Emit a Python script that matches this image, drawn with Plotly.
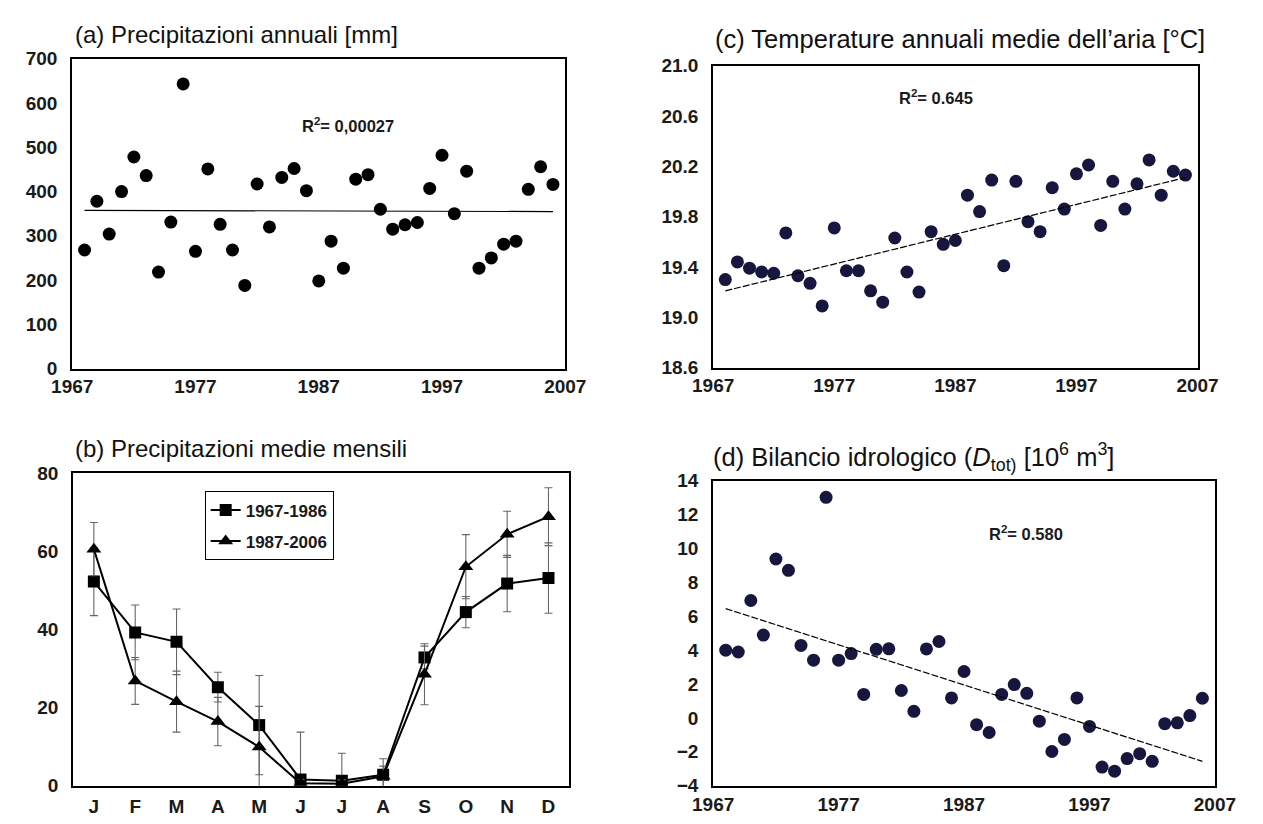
import plotly.graph_objects as go

# ---------------- data ----------------
years = list(range(1968, 2007))

# (a) annual precipitation [mm]
precip_annual = [268, 378, 304, 400, 478, 436, 218, 331, 643, 265, 451, 326, 268,
                 188, 417, 320, 432, 452, 402, 198, 288, 227, 428, 438, 360, 315,
                 325, 330, 407, 482, 350, 446, 227, 250, 281, 288, 405, 456, 416]
precip_trend_years = [1968, 2006]
precip_trend = [357.6, 354.7]

# (b) mean monthly precipitation with standard deviation
months = ["J", "F", "M", "A", "M", "J", "J", "A", "S", "O", "N", "D"]
month_pos = list(range(12))
monthly_6786 = [52.2, 39.2, 36.8, 25.2, 15.5, 1.6, 1.3, 2.8, 32.8, 44.4, 51.7, 53.1]
monthly_6786_sd = [8.7, 7.0, 8.4, 3.8, 12.7, 12.1, 7.0, 4.1, 2.9, 4.0, 7.2, 9.0]
monthly_8706 = [60.5, 26.8, 21.5, 16.4, 9.9, 0.6, 0.5, 2.4, 28.5, 56.0, 64.3, 68.8]
monthly_8706_sd = [6.8, 6.0, 7.8, 6.2, 10.4, 1.0, 1.0, 2.6, 7.8, 8.2, 5.9, 7.4]

# (c) mean annual air temperature [°C]
temp_annual = [19.30, 19.44, 19.39, 19.36, 19.35, 19.67, 19.33, 19.27, 19.09, 19.71,
               19.37, 19.37, 19.21, 19.12, 19.63, 19.36, 19.20, 19.68, 19.58, 19.61,
               19.97, 19.84, 20.09, 19.41, 20.08, 19.76, 19.68, 20.03, 19.86, 20.14,
               20.21, 19.73, 20.08, 19.86, 20.06, 20.25, 19.97, 20.16, 20.13]
temp_trend_years = [1968, 2006]
temp_trend = [19.21, 20.11]

# (d) hydrological balance D_tot [10^6 m^3]
balance = [4.00, 3.89, 6.93, 4.89, 9.38, 8.71, 4.28, 3.41, 13.02, 3.41, 3.80, 1.39,
           4.05, 4.08, 1.62, 0.39, 4.07, 4.51, 1.18, 2.74, -0.40, -0.86, 1.39, 1.97,
           1.45, -0.19, -1.98, -1.27, 1.18, -0.50, -2.90, -3.14, -2.40, -2.11, -2.56,
           -0.34, -0.29, 0.14, 1.16]
balance_trend_years = [1968, 2006]
balance_trend = [6.45, -2.56]

year_ticks = [1967, 1977, 1987, 1997, 2007]

# ---------------- styling ----------------
FONT = "Liberation Sans, Arial, Helvetica, sans-serif"
W, H = 1263, 824
NAVY = "#16163f"
TICKFONT = dict(family=FONT, size=19, color="#1a1a1a", weight="bold")


def px_dom_x(a, b):
    return [a / W, b / W]


def px_dom_y(top, bottom):
    return [1 - bottom / H, 1 - top / H]


fig = go.Figure()

# (a)
fig.add_trace(go.Scatter(x=years, y=precip_annual, mode="markers",
                         marker=dict(color="black", size=13), showlegend=False,
                         xaxis="x", yaxis="y"))
fig.add_trace(go.Scatter(x=precip_trend_years, y=precip_trend, mode="lines",
                         line=dict(color="black", width=1.2), showlegend=False,
                         xaxis="x", yaxis="y"))

# (c)
fig.add_trace(go.Scatter(x=years, y=temp_annual, mode="markers",
                         marker=dict(color=NAVY, size=13), showlegend=False,
                         xaxis="x2", yaxis="y2"))
fig.add_trace(go.Scatter(x=temp_trend_years, y=temp_trend, mode="lines",
                         line=dict(color="black", width=1.2, dash="7px,2px"),
                         showlegend=False, xaxis="x2", yaxis="y2"))

# (b)
fig.add_trace(go.Scatter(x=month_pos, y=monthly_6786, mode="lines+markers",
                         name="1967-1986", legendgroup="g1",
                         line=dict(color="black", width=2),
                         marker=dict(symbol="square", size=12, color="black"),
                         error_y=dict(type="data", array=monthly_6786_sd, visible=True,
                                      color="#666666", thickness=1.1, width=4),
                         xaxis="x3", yaxis="y3"))
fig.add_trace(go.Scatter(x=month_pos, y=monthly_8706, mode="lines+markers",
                         name="1987-2006", legendgroup="g2",
                         line=dict(color="black", width=2),
                         marker=dict(symbol="triangle-up", size=13, color="black"),
                         error_y=dict(type="data", array=monthly_8706_sd, visible=True,
                                      color="#666666", thickness=1.1, width=4),
                         xaxis="x3", yaxis="y3"))

# (d)
fig.add_trace(go.Scatter(x=years, y=balance, mode="markers",
                         marker=dict(color=NAVY, size=13), showlegend=False,
                         xaxis="x4", yaxis="y4"))
fig.add_trace(go.Scatter(x=balance_trend_years, y=balance_trend, mode="lines",
                         line=dict(color="black", width=1.2, dash="7px,2px"),
                         showlegend=False, xaxis="x4", yaxis="y4"))

frame = dict(showline=True, linecolor="black", linewidth=2, mirror=True,
             showgrid=False, zeroline=False, ticks="", tickfont=TICKFONT,
             fixedrange=True)

year_axis = dict(frame, range=[1967, 2007], tickmode="array", tickvals=year_ticks,
                 ticktext=[str(v) for v in year_ticks], ticklabelstandoff=0)
value_axis = dict(frame, ticklabelstandoff=9)

fig.update_layout(
    width=W, height=H,
    margin=dict(l=0, r=0, t=0, b=0),
    paper_bgcolor="white", plot_bgcolor="white",
    font=dict(family=FONT, color="black"),
    xaxis=dict(year_axis, domain=px_dom_x(53, 563), anchor="y"),
    yaxis=dict(value_axis, domain=px_dom_y(50, 368), range=[0, 700], dtick=100,
               anchor="x"),
    xaxis2=dict(year_axis, domain=px_dom_x(716, 1217), anchor="y2"),
    yaxis2=dict(value_axis, domain=px_dom_y(57, 367), range=[18.6, 21.0], dtick=0.4,
                tick0=18.6, tickformat=".1f", anchor="x2"),
    xaxis3=dict(frame, domain=px_dom_x(54, 567), anchor="y3", range=[-0.5, 11.5],
                tickmode="array", tickvals=month_pos, ticktext=months,
                ticklabelstandoff=2),
    yaxis3=dict(value_axis, domain=px_dom_y(475, 796), range=[0, 80], dtick=20,
                anchor="x3"),
    xaxis4=dict(year_axis, domain=px_dom_x(716, 1235), anchor="y4"),
    yaxis4=dict(value_axis, domain=px_dom_y(483, 796), range=[-4, 14], dtick=2,
                anchor="x4"),
    legend=dict(x=190 / W, y=1 - 494 / H, xanchor="left", yanchor="top",
                bordercolor="black", borderwidth=1, bgcolor="white",
                font=dict(family=FONT, size=17, color="#1a1a1a", weight="bold"),
                traceorder="grouped", tracegroupgap=6, itemwidth=30),
)

titles = [
    ("(a) Precipitazioni annuali [mm]", 54, 25, 24),
    ("(c) Temperature annuali medie dell’aria [°C]", 716, 30, 25.5),
    ("(b) Precipitazioni medie mensili", 54, 450, 24),
    ("(d) Bilancio idrologico (<i>D</i><sub>tot)</sub> [10<sup>6</sup> m<sup>3</sup>]",
     714, 459, 25.5),
]
for text, x0, y0, fsize in titles:
    fig.add_annotation(text=text, xref="paper", yref="paper", x=x0 / W, y=1 - y0 / H,
                       xanchor="left", yanchor="middle", showarrow=False,
                       font=dict(family=FONT, size=fsize, color="#111111"))

R_FONT = dict(family=FONT, size=16.5, color="#1a1a1a", weight="bold")
fig.add_annotation(text="R<sup>2</sup>= 0,00027", xref="x", yref="y", x=1985.5, y=550,
                   xanchor="left", yanchor="middle", showarrow=False, font=R_FONT)
fig.add_annotation(text="R<sup>2</sup>= 0.645", xref="x2", yref="y2", x=1982.2, y=20.75,
                   xanchor="left", yanchor="middle", showarrow=False, font=R_FONT)
fig.add_annotation(text="R<sup>2</sup>= 0.580", xref="x4", yref="y4", x=1988.8, y=10.92,
                   xanchor="left", yanchor="middle", showarrow=False, font=R_FONT)

fig.write_html("out.html")
